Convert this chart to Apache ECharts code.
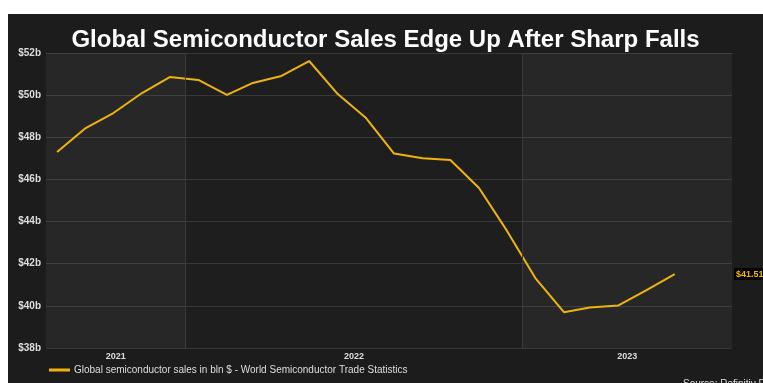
<!DOCTYPE html>
<html>
<head>
<meta charset="utf-8">
<script src="https://cdn.jsdelivr.net/npm/echarts@6/dist/echarts.min.js"></script>
<style>
  html, body { margin: 0; padding: 0; background: #ffffff; }
  #chart { position: absolute; left: 8px; top: 14px; width: 755px; height: 369px; background: #1c1c1c; }
</style>
</head>
<body>
<div id="chart"></div>
<script>
// Monthly global semiconductor sales, billions of US dollars
const months = [
  '2021-08-15', '2021-09-15', '2021-10-15', '2021-11-15', '2021-12-15',
  '2022-01-15', '2022-02-15', '2022-03-15', '2022-04-15', '2022-05-15', '2022-06-15',
  '2022-07-15', '2022-08-15', '2022-09-15', '2022-10-15', '2022-11-15', '2022-12-15',
  '2023-01-15', '2023-02-15', '2023-03-15', '2023-04-15', '2023-05-15', '2023-06-15'
];
const sales = [
  47.30, 48.44, 49.15, 50.10, 50.86,
  50.72, 50.01, 50.58, 50.91, 51.62, 50.05,
  48.94, 47.23, 47.00, 46.92, 45.59, 43.58,
  41.32, 39.70, 39.92, 40.02, 40.74, 41.51
];
const yearLabels = ['2021', '2022', '2023'];
const yearBreaks = ['2021-08-03', '2022-01-01', '2023-01-01', '2023-08-16'];
const yTicks = [38, 40, 42, 44, 46, 48, 50, 52];
const seriesName = 'Global semiconductor sales in bln $ - World Semiconductor Trade Statistics';
const lastValue = sales[sales.length - 1];

const FONT = "'Liberation Sans', Arial, sans-serif";
const bandLight = 'rgba(255,255,255,0.05)';
const bandDark = 'rgba(255,255,255,0.012)';

const chart = echarts.init(document.getElementById('chart'), null, { renderer: 'canvas' });

const bands = yearLabels.map((y, i) => [
  {
    xAxis: yearBreaks[i],
    name: y,
    itemStyle: { color: i === 1 ? bandDark : bandLight }
  },
  { xAxis: yearBreaks[i + 1] }
]);

chart.setOption({
  backgroundColor: '#1c1c1c',
  animation: false,
  title: [
    {
      text: 'Global Semiconductor Sales Edge Up After Sharp Falls',
      left: 'center',
      top: 9,
      textStyle: { color: '#ffffff', fontFamily: FONT, fontWeight: 'bold', fontSize: 24 }
    },
    {
      text: 'Source: Refinitiv Datastream',
      left: 670,
      top: 360,
      textStyle: { color: '#dddddd', fontFamily: FONT, fontWeight: 'normal', fontSize: 10 }
    }
  ],
  legend: {
    left: 41,
    top: 351,
    padding: 0,
    itemWidth: 21,
    itemHeight: 3,
    itemGap: 4,
    icon: 'rect',
    textStyle: { color: '#dddddd', fontFamily: FONT, fontSize: 10, padding: [0, 0, 0, -1] },
    data: [seriesName]
  },
  grid: { left: 38, right: 31, top: 39, bottom: 35, containLabel: false },
  xAxis: {
    type: 'time',
    min: +new Date(yearBreaks[0]),
    max: +new Date(yearBreaks[3]),
    axisLine: { show: false },
    axisTick: { show: false },
    axisLabel: { show: false },
    splitLine: { show: false }
  },
  yAxis: {
    type: 'value',
    min: yTicks[0],
    max: yTicks[yTicks.length - 1],
    interval: 2,
    axisLine: { show: false },
    axisTick: { show: false },
    axisLabel: {
      color: '#dddddd',
      fontFamily: FONT,
      fontWeight: 'bold',
      fontSize: 10,
      margin: 5,
      formatter: v => '$' + v + 'b'
    },
    splitLine: { lineStyle: { color: '#363636', width: 1 } }
  },
  series: [
    {
      name: seriesName,
      type: 'line',
      data: months.map((m, i) => [m, sales[i]]),
      showSymbol: false,
      symbol: 'none',
      lineStyle: { color: '#efb40c', width: 2 },
      itemStyle: { color: '#efb40c' },
      markArea: {
        silent: true,
        label: {
          show: true,
          position: 'bottom',
          distance: 4,
          color: '#dddddd',
          fontFamily: FONT,
          fontWeight: 'bold',
          fontSize: 9
        },
        data: bands
      },
      markLine: {
        silent: true,
        symbol: 'none',
        data: [
          {
            yAxis: lastValue,
            lineStyle: { color: 'rgba(0,0,0,0)', width: 0 },
            label: {
              show: true,
              position: 'end',
              distance: 2,
              formatter: () => '$' + lastValue.toFixed(2),
              color: '#f5b800',
              backgroundColor: '#000000',
              padding: [2, 2, 1, 2],
              fontFamily: FONT,
              fontWeight: 'bold',
              fontSize: 9
            }
          },
          {
            xAxis: yearBreaks[1],
            lineStyle: { color: '#3a3a3a', width: 1, type: 'solid' },
            label: { show: false }
          },
          {
            xAxis: yearBreaks[2],
            lineStyle: { color: '#3a3a3a', width: 1, type: 'solid' },
            label: { show: false }
          }
        ]
      }
    }
  ]
});
</script>
</body>
</html>
